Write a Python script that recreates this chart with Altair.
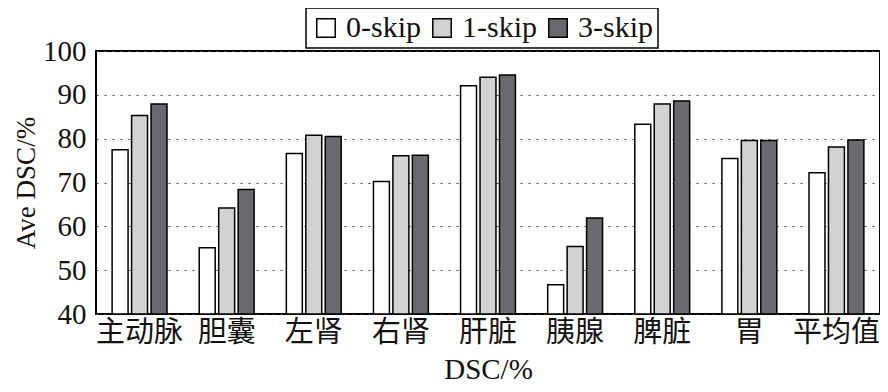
import altair as alt
import pandas as pd

categories = ["主动脉", "胆囊", "左肾", "右肾", "肝脏", "胰腺", "脾脏", "胃", "平均值"]
series = ["0-skip", "1-skip", "3-skip"]
skip0 = [77.5, 55.1, 76.6, 70.2, 92.1, 46.7, 83.3, 75.5, 72.2]
skip1 = [85.3, 64.2, 80.8, 76.1, 94.0, 55.4, 87.9, 79.6, 78.1]
skip3 = [87.9, 68.4, 80.5, 76.2, 94.5, 61.9, 88.6, 79.6, 79.7]
colors = ["#ffffff", "#d1d2d4", "#696a6e"]

rows = []
for name, vals in zip(series, [skip0, skip1, skip3]):
    for c, v in zip(categories, vals):
        rows.append({"organ": c, "series": name, "value": v})
df = pd.DataFrame(rows)

chart = alt.Chart(df).mark_bar(stroke="black", strokeWidth=1.5).encode(
    x=alt.X("organ:N", sort=categories,
            scale=alt.Scale(paddingInner=0.33, paddingOuter=0.165),
            axis=alt.Axis(title="DSC/%", labelAngle=0, domain=False, ticks=False,
                          labelFont="Noto Sans CJK SC", labelFontSize=29,
                          labelColor="#111", labelPadding=4,
                          titleFont="Liberation Serif", titleFontSize=29,
                          titleFontWeight="normal", titleColor="#111",
                          titlePadding=8)),
    xOffset=alt.XOffset("series:N", sort=series,
                        scale=alt.Scale(paddingInner=0.18, paddingOuter=0.09)),
    y=alt.Y("value:Q", scale=alt.Scale(domain=[40, 100], zero=False, nice=False),
            axis=alt.Axis(title="Ave DSC/%", values=[40, 50, 60, 70, 80, 90, 100],
                          domain=False, ticks=False, grid=True,
                          gridDash=[2, 6], gridColor="#444", gridWidth=1,
                          labelFont="Liberation Serif", labelFontSize=29,
                          labelColor="#111", labelPadding=10,
                          titleFont="Liberation Serif", titleFontSize=27,
                          titleFontWeight="normal", titleColor="#111",
                          titlePadding=2)),
    y2=alt.datum(40),
    fill=alt.Fill("series:N", sort=series,
                  scale=alt.Scale(domain=series, range=colors),
                  legend=alt.Legend(title=None, orient="none", legendX=210, legendY=-43,
                                    direction="horizontal", columns=3,
                                    strokeColor="black", padding=5,
                                    labelFont="Liberation Serif", labelFontSize=30,
                                    labelColor="#111", labelOffset=5,
                                    columnPadding=6,
                                    symbolType="square", symbolSize=340,
                                    symbolStrokeColor="black", symbolStrokeWidth=1.5)),
).properties(
    width=784, height=263,
    autosize=alt.AutoSizeParams(type="none"),
    padding={"left": 88, "top": 43, "right": 0, "bottom": 78},
).configure_view(
    stroke="black", strokeWidth=2
).configure_legend(
    strokeWidth=1.5
)

chart.save("out.html", embed_options={"renderer": "svg", "actions": False})
